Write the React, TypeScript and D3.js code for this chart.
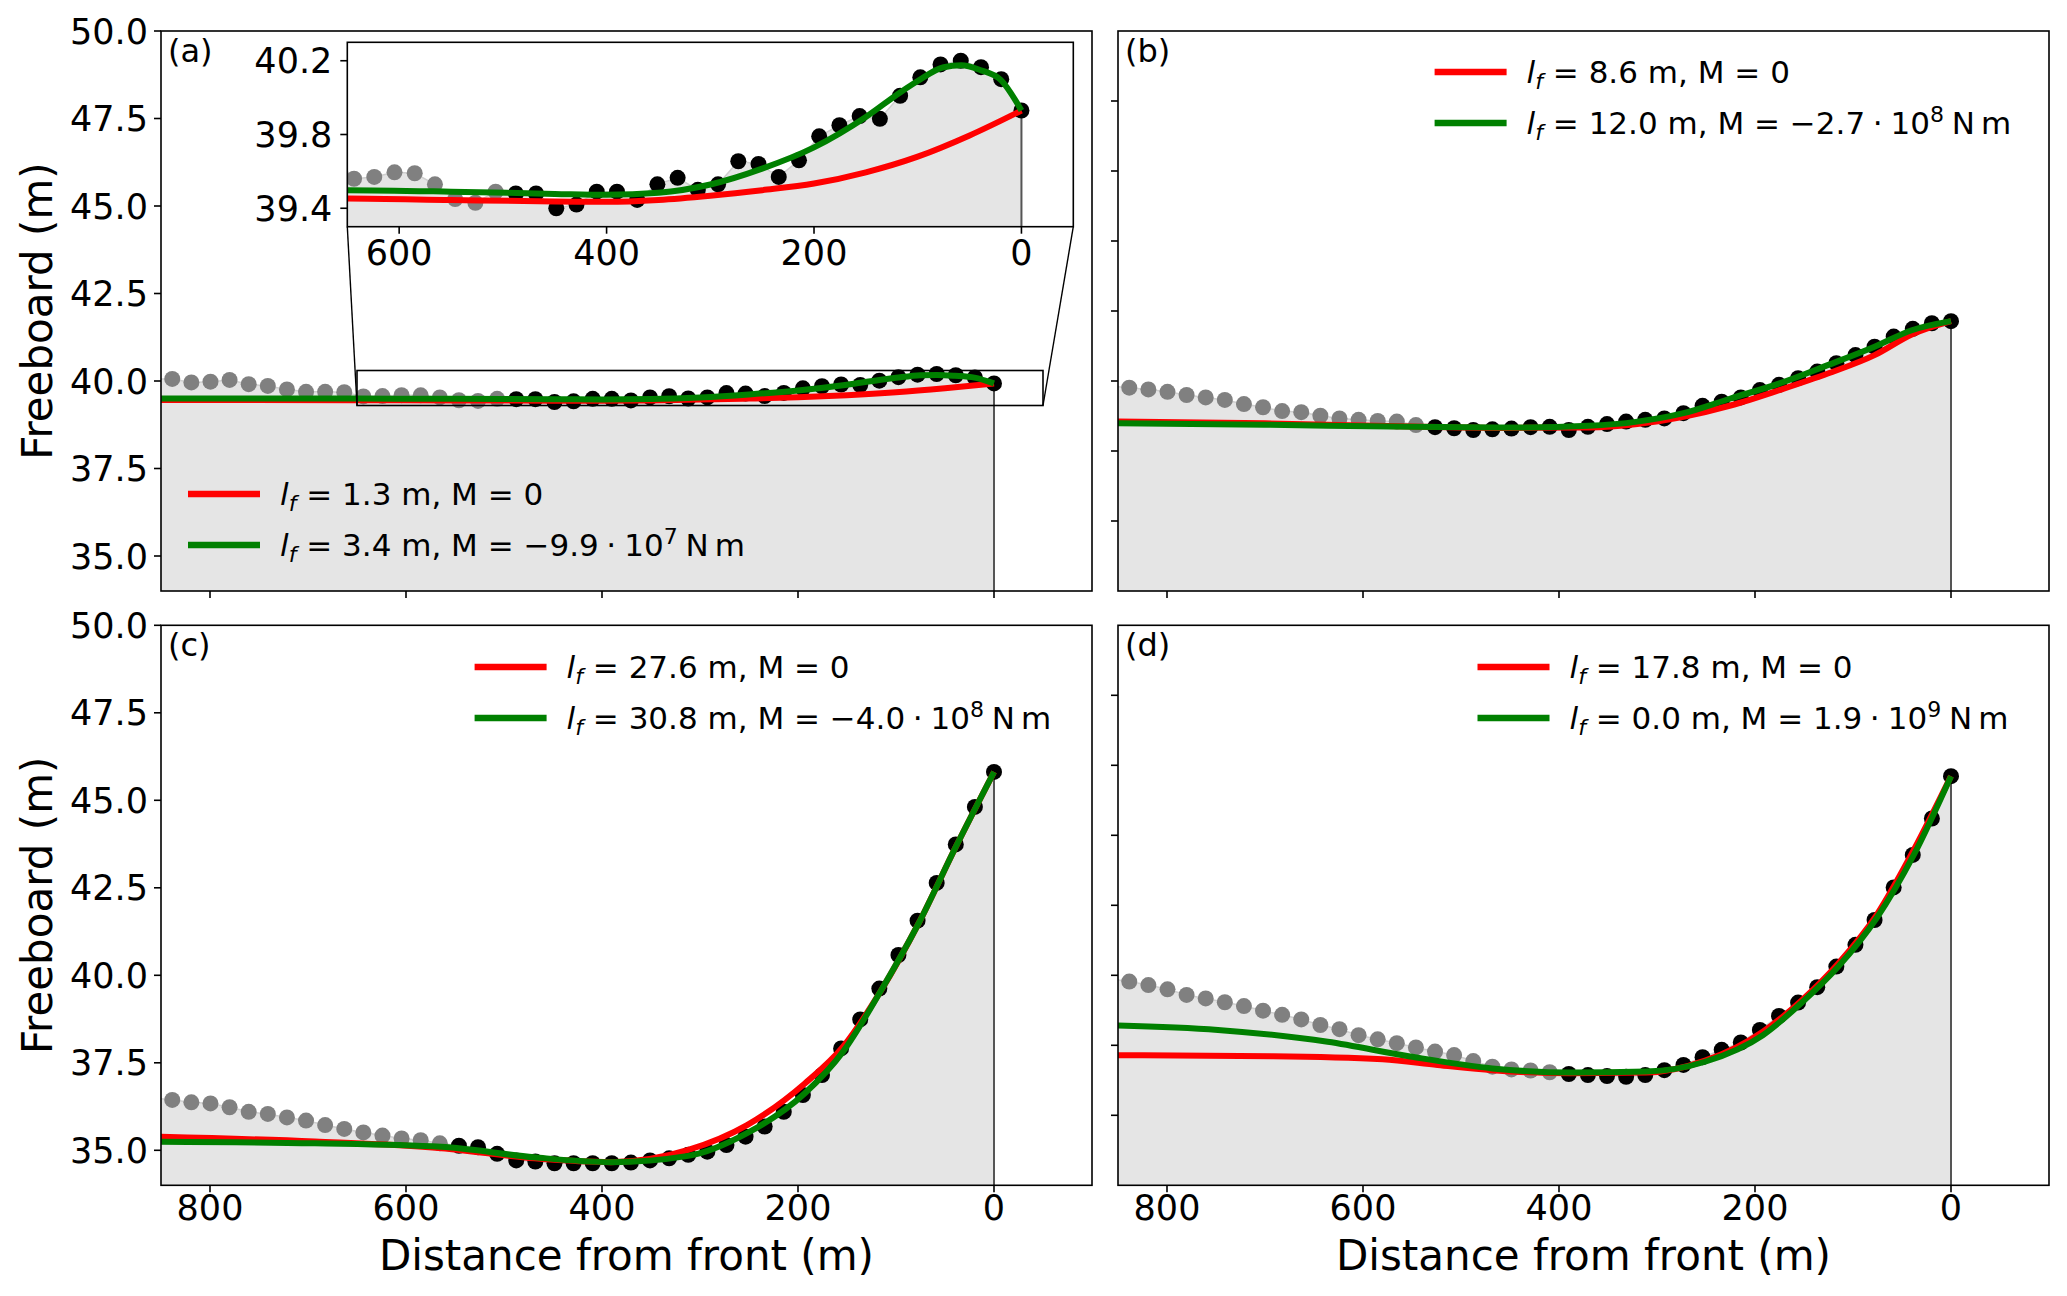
import React, { useEffect, useRef } from 'react';
import * as d3 from 'd3';

// sample positions along the profile (m from front); the last one lies just outside the view
const DIST = [0, 19.5, 39, 58.5, 78, 97.5, 117, 136.5, 156, 175.5, 195, 214.5, 234, 253.5, 273, 292.5, 312, 331.5, 351, 370.5,
  390, 409.5, 429, 448.5, 468, 487.5, 507, 526.5, 546, 565.5, 585, 604.5, 624, 643.5, 663, 682.5, 702, 721.5, 741, 760.5,
  780, 799.5, 819, 838.5, 858];

const FB_A = [39.93, 40.10, 40.165, 40.20, 40.18, 40.11, 40.01, 39.885, 39.90, 39.85, 39.79, 39.66, 39.57, 39.64, 39.655, 39.53,
  39.50, 39.565, 39.53, 39.445, 39.49, 39.49, 39.42, 39.40, 39.48, 39.48, 39.49, 39.43, 39.45, 39.53, 39.59, 39.595, 39.57,
  39.56, 39.68, 39.69, 39.69, 39.76, 39.86, 39.91, 40.03, 39.98, 39.96, 40.06, 40.05];
const FB_B = [41.71, 41.65, 41.49, 41.27, 40.98, 40.74, 40.51, 40.27, 40.08, 39.89, 39.74, 39.53, 39.41, 39.29, 39.08, 38.93,
  38.89, 38.84, 38.77, 38.69, 38.60, 38.69, 38.68, 38.64, 38.62, 38.60, 38.65, 38.68, 38.74, 38.84, 38.86, 38.89, 38.93,
  39.01, 39.11, 39.14, 39.25, 39.34, 39.46, 39.53, 39.60, 39.69, 39.76, 39.81, 39.85];
const FB_C = [45.81, 44.81, 43.74, 42.64, 41.56, 40.58, 39.62, 38.74, 37.91, 37.15, 36.58, 36.10, 35.68, 35.39, 35.15, 34.96,
  34.87, 34.77, 34.71, 34.65, 34.63, 34.63, 34.63, 34.63, 34.68, 34.71, 34.90, 35.09, 35.13, 35.20, 35.29, 35.34, 35.42,
  35.51, 35.61, 35.72, 35.85, 35.94, 36.04, 36.10, 36.23, 36.34, 36.37, 36.44, 36.50];
const FB_D = [45.69, 44.48, 43.44, 42.51, 41.58, 40.87, 40.25, 39.66, 39.22, 38.84, 38.44, 38.08, 37.87, 37.66, 37.44, 37.29,
  37.15, 37.10, 37.12, 37.15, 37.18, 37.23, 37.28, 37.31, 37.39, 37.55, 37.72, 37.82, 37.94, 38.06, 38.17, 38.29, 38.46,
  38.58, 38.74, 38.87, 38.99, 39.12, 39.23, 39.34, 39.44, 39.60, 39.72, 39.82, 39.90];

// how many samples (from the front) were used in the fit
const FIT_N = [26, 28, 29, 21];

// fitted profiles, far -> near
const RED_X_A = [870, 650, 550, 450, 400, 350, 300, 250, 200, 150, 100, 50, 0];
const RED_A = [39.455, 39.453, 39.445, 39.437, 39.435, 39.445, 39.468, 39.498, 39.534, 39.595, 39.68, 39.795, 39.93];
const GREEN_X_A = [870, 650, 550, 450, 400, 350, 300, 250, 200, 150, 117, 100, 75, 58, 40, 20, 0];
const GREEN_A = [39.50, 39.498, 39.49, 39.478, 39.473, 39.484, 39.529, 39.615, 39.73, 39.895, 40.028, 40.09, 40.165, 40.175, 40.15, 40.096, 39.93];

const FIT_X_B = [870, 700, 550, 450, 370, 320, 273, 225, 175, 125, 78, 40, 0];
const RED_B = [38.85, 38.79, 38.70, 38.66, 38.67, 38.77, 38.98, 39.30, 39.74, 40.22, 40.74, 41.33, 41.71];
const GREEN_B = [38.80, 38.75, 38.69, 38.67, 38.72, 38.84, 39.08, 39.50, 39.93, 40.46, 40.98, 41.45, 41.71];

const FIT_X_C = [870, 693, 564, 469, 391, 312, 252, 193, 154, 116, 77, 39, 0];
const RED_C = [35.40, 35.25, 35.06, 34.77, 34.66, 35.01, 35.72, 36.91, 37.96, 39.53, 41.48, 43.67, 45.81];
const GREEN_C = [35.25, 35.20, 35.10, 34.80, 34.66, 34.84, 35.49, 36.63, 37.82, 39.53, 41.48, 43.67, 45.81];

const RED_X_D = [870, 692, 580, 524, 468, 388, 311, 251, 192, 153, 115, 76, 38, 0];
const RED_D = [37.72, 37.69, 37.60, 37.44, 37.29, 37.20, 37.22, 37.56, 38.39, 39.27, 40.34, 41.72, 43.58, 45.69];
const GREEN_X_D = [870, 748, 636, 552, 468, 388, 311, 251, 192, 153, 115, 76, 38, 0];
const GREEN_D = [38.58, 38.44, 38.10, 37.68, 37.34, 37.22, 37.25, 37.53, 38.29, 39.20, 40.25, 41.63, 43.44, 45.69];

const TAGS = ['(a)', '(b)', '(c)', '(d)'];
const LF_RED = ['1.3', '8.6', '27.6', '17.8'];
const LF_GREEN = ['3.4', '12.0', '30.8', '0.0'];
const M_GREEN = ['\u22129.9', '\u22122.7', '\u22124.0', '1.9'];
const M_EXP = ['7', '8', '8', '9'];

const X_TICKS = [800, 600, 400, 200, 0];
const Y_TICKS_LEFT = [35, 37.5, 40, 42.5, 45, 47.5, 50];
const Y_TICKS_RIGHT = [36, 38, 40, 42, 44, 46, 48];
const INSET_X_TICKS = [600, 400, 200, 0];
const INSET_Y_TICKS = [39.4, 39.8, 40.2];

const W = 2067, H = 1296;
const PW = 931, PH = 560;
const FONT = 'DejaVu Sans, sans-serif';
const RED = '#ff0000', GREEN = '#008000';

export default function App() {
  const svgRef = useRef<SVGSVGElement>(null);

  useEffect(() => {
    if (!svgRef.current) return;
    const svg = d3.select(svgRef.current);
    svg.selectAll('*').remove();
    svg.append('rect').attr('width', W).attr('height', H).attr('fill', '#fff');
    const defs = svg.append('defs');

    const panels = [
      { ox: 161, oy: 31, fb: FB_A, red: [RED_X_A, RED_A], green: [GREEN_X_A, GREEN_A], left: true, bottom: false, leg: [188, 494] },
      { ox: 1118, oy: 31, fb: FB_B, red: [FIT_X_B, RED_B], green: [FIT_X_B, GREEN_B], left: false, bottom: false, leg: [1434.6, 72] },
      { ox: 161, oy: 625.3, fb: FB_C, red: [FIT_X_C, RED_C], green: [FIT_X_C, GREEN_C], left: true, bottom: true, leg: [474.6, 667] },
      { ox: 1118, oy: 625.3, fb: FB_D, red: [RED_X_D, RED_D], green: [GREEN_X_D, GREEN_D], left: false, bottom: true, leg: [1477.5, 667] },
    ];

    // profile, samples and fits into g with given scales
    const drawContent = (g: any, x: any, y: any, fb: number[], nFit: number, red: number[][], green: number[][], bottomPx: number) => {
      const pts = DIST.map((d, i) => ({ d, v: fb[i], i }));
      const area = d3.area<any>().x(p => x(p.d)).y0(bottomPx).y1(p => y(p.v));
      g.append('path').attr('d', area(pts)).attr('fill', '#e5e5e5').attr('stroke', 'none');
      g.append('path').attr('d', d3.line<any>().x(p => x(p.d)).y(p => y(p.v))(pts))
        .attr('fill', 'none').attr('stroke', '#cfcfcf').attr('stroke-width', 1.5);
      g.append('line').attr('x1', x(0)).attr('x2', x(0)).attr('y1', y(fb[0])).attr('y2', bottomPx)
        .attr('stroke', '#555').attr('stroke-width', 2);
      g.selectAll('.dot').data(pts.slice().reverse()).enter().append('circle')
        .attr('cx', (p: any) => x(p.d)).attr('cy', (p: any) => y(p.v)).attr('r', 8)
        .attr('fill', (p: any) => (p.i < nFit ? '#000' : '#808080'));
      const fitPath = (xs: number[], ys: number[]) =>
        d3.line<number>().x((_, i) => x(xs[i])).y(v => y(v)).curve(d3.curveMonotoneX)(ys);
      g.append('path').attr('d', fitPath(red[0], red[1])).attr('fill', 'none').attr('stroke', RED).attr('stroke-width', 6);
      g.append('path').attr('d', fitPath(green[0], green[1])).attr('fill', 'none').attr('stroke', GREEN).attr('stroke-width', 6);
    };

    panels.forEach((p, k) => {
      const x = d3.scaleLinear().domain([850, -100]).range([p.ox, p.ox + PW]);
      const y = d3.scaleLinear().domain([34, 50]).range([p.oy + PH, p.oy]);

      defs.append('clipPath').attr('id', `clip${k}`).append('rect')
        .attr('x', p.ox).attr('y', p.oy).attr('width', PW).attr('height', PH);
      const g = svg.append('g').attr('clip-path', `url(#clip${k})`);
      drawContent(g, x, y, p.fb, FIT_N[k], p.red, p.green, p.oy + PH);

      // frame and ticks
      svg.append('rect').attr('x', p.ox).attr('y', p.oy).attr('width', PW).attr('height', PH)
        .attr('fill', 'none').attr('stroke', '#000').attr('stroke-width', 1.6);
      X_TICKS.forEach(t => {
        svg.append('line').attr('x1', x(t)).attr('x2', x(t)).attr('y1', p.oy + PH).attr('y2', p.oy + PH + 7)
          .attr('stroke', '#000').attr('stroke-width', 1.6);
        if (p.bottom) svg.append('text').attr('x', x(t)).attr('y', p.oy + PH + 35).attr('text-anchor', 'middle')
          .attr('font-family', FONT).attr('font-size', 35).text(String(t));
      });
      (p.left ? Y_TICKS_LEFT : Y_TICKS_RIGHT).forEach(t => {
        svg.append('line').attr('x1', p.ox - 7).attr('x2', p.ox).attr('y1', y(t)).attr('y2', y(t))
          .attr('stroke', '#000').attr('stroke-width', 1.6);
        if (p.left) svg.append('text').attr('x', p.ox - 13).attr('y', y(t)).attr('dy', '0.36em').attr('text-anchor', 'end')
          .attr('font-family', FONT).attr('font-size', 35).text(t.toFixed(1));
      });
      if (p.left) svg.append('text').attr('transform', `translate(52,${p.oy + PH / 2}) rotate(-90)`)
        .attr('text-anchor', 'middle').attr('font-family', FONT).attr('font-size', 42).text('Freeboard (m)');
      if (p.bottom) svg.append('text').attr('x', p.ox + PW / 2).attr('y', 1270).attr('text-anchor', 'middle')
        .attr('font-family', FONT).attr('font-size', 42).text('Distance from front (m)');

      svg.append('text').attr('x', p.ox + 7).attr('y', p.oy + 31).attr('font-family', FONT).attr('font-size', 32).text(TAGS[k]);

      // legend
      const [lx, ly] = p.leg;
      const row = (yy: number, color: string, lf: string, m: string, exp: string | null) => {
        svg.append('line').attr('x1', lx).attr('x2', lx + 72).attr('y1', yy).attr('y2', yy)
          .attr('stroke', color).attr('stroke-width', 6.5);
        const t = svg.append('text').attr('x', lx + 92).attr('y', yy + 11).attr('font-family', FONT).attr('font-size', 31);
        t.append('tspan').attr('font-style', 'italic').text('l');
        t.append('tspan').attr('font-style', 'italic').attr('font-size', 22).attr('dy', 6).text('f');
        if (exp) {
          t.append('tspan').attr('dy', -6).text(` = ${lf} m, M = ${m}\u2005\u22C5\u200510`);
          t.append('tspan').attr('font-size', 22).attr('dy', -12).text(exp);
          t.append('tspan').attr('dy', 12).text('\u2005N\u2009m');
        } else {
          t.append('tspan').attr('dy', -6).text(` = ${lf} m, M = ${m}`);
        }
      };
      row(ly, RED, LF_RED[k], '0', null);
      row(ly + 51, GREEN, LF_GREEN[k], M_GREEN[k], M_EXP[k]);

      if (k === 0) {
        // zoom box in main axes
        const bx0 = x(650), bx1 = x(-50), by0 = y(40.3), by1 = y(39.3);
        svg.append('rect').attr('x', bx0).attr('y', by0).attr('width', bx1 - bx0).attr('height', by1 - by0)
          .attr('fill', 'none').attr('stroke', '#000').attr('stroke-width', 1.6);
        const ix0 = 347.3, iy0 = 42.3, iw = 726, ih = 184.4;
        svg.append('line').attr('x1', ix0).attr('y1', iy0 + ih).attr('x2', bx0).attr('y2', by1).attr('stroke', '#000').attr('stroke-width', 1.4);
        svg.append('line').attr('x1', ix0 + iw).attr('y1', iy0 + ih).attr('x2', bx1).attr('y2', by1).attr('stroke', '#000').attr('stroke-width', 1.4);

        const xi = d3.scaleLinear().domain([650, -50]).range([ix0, ix0 + iw]);
        const yi = d3.scaleLinear().domain([39.3, 40.3]).range([iy0 + ih, iy0]);
        svg.append('rect').attr('x', ix0).attr('y', iy0).attr('width', iw).attr('height', ih).attr('fill', '#fff');
        defs.append('clipPath').attr('id', 'clipInset').append('rect')
          .attr('x', ix0).attr('y', iy0).attr('width', iw).attr('height', ih);
        const gi = svg.append('g').attr('clip-path', 'url(#clipInset)');
        drawContent(gi, xi, yi, p.fb, FIT_N[k], p.red, p.green, iy0 + ih);
        svg.append('rect').attr('x', ix0).attr('y', iy0).attr('width', iw).attr('height', ih)
          .attr('fill', 'none').attr('stroke', '#000').attr('stroke-width', 1.6);
        INSET_X_TICKS.forEach(t => {
          svg.append('line').attr('x1', xi(t)).attr('x2', xi(t)).attr('y1', iy0 + ih).attr('y2', iy0 + ih + 7)
            .attr('stroke', '#000').attr('stroke-width', 1.6);
          svg.append('text').attr('x', xi(t)).attr('y', iy0 + ih + 38).attr('text-anchor', 'middle')
            .attr('font-family', FONT).attr('font-size', 35).text(String(t));
        });
        INSET_Y_TICKS.forEach(t => {
          svg.append('line').attr('x1', ix0 - 7).attr('x2', ix0).attr('y1', yi(t)).attr('y2', yi(t))
            .attr('stroke', '#000').attr('stroke-width', 1.6);
          svg.append('text').attr('x', ix0 - 15).attr('y', yi(t)).attr('dy', '0.36em').attr('text-anchor', 'end')
            .attr('font-family', FONT).attr('font-size', 35).text(t.toFixed(1));
        });
      }
    });
  }, []);

  return (
    <svg ref={svgRef} width={W} height={H} viewBox={`0 0 ${W} ${H}`}
      style={{ position: 'absolute', left: 0, top: 0, display: 'block' }} />
  );
}
